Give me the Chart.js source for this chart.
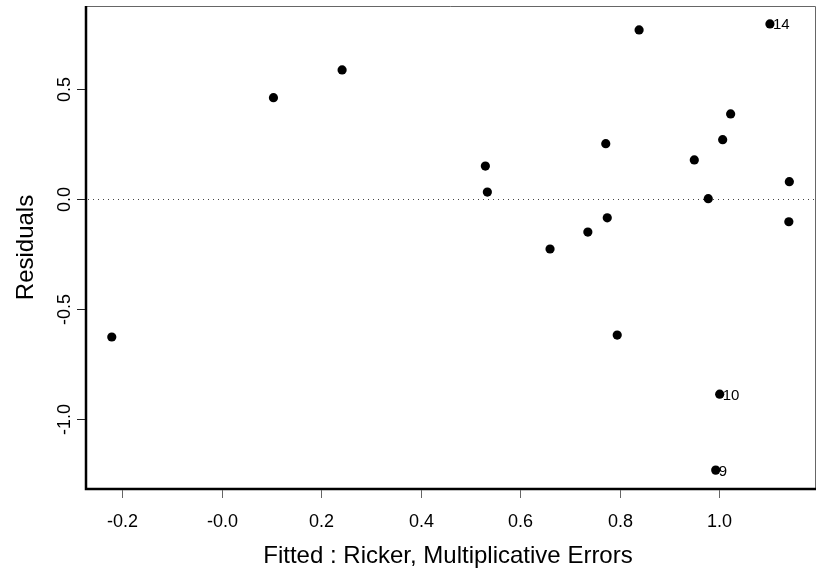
<!DOCTYPE html>
<html>
<head>
<meta charset="utf-8">
<script src="https://cdn.jsdelivr.net/npm/chart.js@4"></script>
<style>
  body { margin: 0; background: #fff; }
  #wrap { width: 817px; height: 581px; }
</style>
</head>
<body>
<div id="wrap"><canvas id="resid-chart" width="817" height="581"></canvas></div>
<script>
// values
var fitted = [-0.221, 0.104, 0.242, 0.530, 0.534, 0.660, 0.736, 0.772, 0.993, 1.001,
              0.775, 0.795, 0.839, 1.102, 0.950, 0.978, 1.007, 1.023, 1.141, 1.140];
var residuals = [-0.626, 0.462, 0.588, 0.151, 0.033, -0.226, -0.149, 0.253, -1.231, -0.886,
                 -0.084, -0.617, 0.770, 0.797, 0.179, 0.003, 0.271, 0.388, 0.080, -0.102];
var labelledObs = [9, 10, 14];

var xTicks = [-0.2, 0.0, 0.2, 0.4, 0.6, 0.8, 1.0];
var xTickLabels = ['-0.2', '-0.0', '0.2', '0.4', '0.6', '0.8', '1.0'];
var yTicks = [-1.0, -0.5, 0.0, 0.5];
var yTickLabels = ['-1.0', '-0.5', '0.0', '0.5'];

var xTitle = 'Fitted : Ricker, Multiplicative Errors';
var yTitle = 'Residuals';

var FONT = '"Liberation Sans", Arial, Helvetica, sans-serif';

var points = fitted.map(function (x, i) {
  return { x: x, y: residuals[i] };
});

// R-ish axes, box, zero line and point ids
var rAxes = {
  id: 'rAxes',
  beforeDatasetsDraw: function (chart) {
    var ctx = chart.ctx, a = chart.chartArea, y0 = chart.scales.y.getPixelForValue(0);
    ctx.save();
    ctx.strokeStyle = '#444';
    ctx.lineWidth = 1;
    ctx.setLineDash([1, 4]);
    ctx.beginPath();
    ctx.moveTo(a.left + 2, Math.round(y0) + 0.5);
    ctx.lineTo(a.right, Math.round(y0) + 0.5);
    ctx.stroke();
    ctx.restore();
  },
  afterDraw: function (chart) {
    var ctx = chart.ctx, a = chart.chartArea;
    var xs = chart.scales.x, ys = chart.scales.y;
    ctx.save();

    // box
    ctx.strokeStyle = '#666';
    ctx.lineWidth = 1;
    ctx.beginPath();
    ctx.moveTo(a.left, a.top + 0.5);
    ctx.lineTo(a.right - 0.5, a.top + 0.5);
    ctx.lineTo(a.right - 0.5, a.bottom);
    ctx.stroke();
    ctx.strokeStyle = '#000';
    ctx.lineWidth = 2.5;
    ctx.beginPath();
    ctx.moveTo(a.left, a.top);
    ctx.lineTo(a.left, a.bottom);
    ctx.lineTo(a.right, a.bottom);
    ctx.stroke();

    // x axis ticks + labels
    ctx.lineWidth = 1;
    ctx.strokeStyle = '#666';
    ctx.fillStyle = '#000';
    ctx.font = '18px ' + FONT;
    ctx.textAlign = 'center';
    ctx.textBaseline = 'alphabetic';
    xTicks.forEach(function (v, i) {
      var px = Math.round(xs.getPixelForValue(v)) + 0.5;
      ctx.beginPath();
      ctx.moveTo(px, a.bottom + 1);
      ctx.lineTo(px, a.bottom + 9);
      ctx.stroke();
      ctx.fillText(xTickLabels[i], px, 527);
    });

    // y axis ticks + rotated labels
    ctx.strokeStyle = '#222';
    yTicks.forEach(function (v, i) {
      var py = Math.round(ys.getPixelForValue(v)) + 0.5;
      ctx.beginPath();
      ctx.moveTo(a.left - 9, py);
      ctx.lineTo(a.left - 1, py);
      ctx.stroke();
      ctx.save();
      ctx.translate(70, py);
      ctx.rotate(-Math.PI / 2);
      ctx.fillText(yTickLabels[i], 0, 0);
      ctx.restore();
    });

    // titles
    ctx.font = '24px ' + FONT;
    ctx.fillText(xTitle, 448, 563);
    ctx.save();
    ctx.translate(33, (a.top + a.bottom) / 2);
    ctx.rotate(-Math.PI / 2);
    ctx.fillText(yTitle, 0, 0);
    ctx.restore();

    // observation ids
    ctx.font = '15px ' + FONT;
    ctx.textAlign = 'left';
    labelledObs.forEach(function (n) {
      var px = xs.getPixelForValue(fitted[n - 1]);
      var py = ys.getPixelForValue(residuals[n - 1]);
      ctx.fillText(String(n), px + 3, py + 5.5);
    });

    ctx.restore();
  }
};

new Chart(document.getElementById('resid-chart'), {
  type: 'scatter',
  data: {
    datasets: [{
      data: points,
      backgroundColor: '#000',
      borderWidth: 0,
      pointRadius: 4.6,
      pointHoverRadius: 4.6
    }]
  },
  options: {
    responsive: false,
    animation: false,
    events: [],
    layout: {
      autoPadding: false,
      padding: { left: 86, top: 6, right: 1, bottom: 92 }
    },
    plugins: {
      legend: { display: false },
      tooltip: { enabled: false }
    },
    scales: {
      x: {
        type: 'linear',
        display: false,
        min: -0.2728,
        max: 1.1946
      },
      y: {
        type: 'linear',
        display: false,
        min: -1.3168,
        max: 0.8786
      }
    }
  },
  plugins: [rAxes]
});
</script>
</body>
</html>
